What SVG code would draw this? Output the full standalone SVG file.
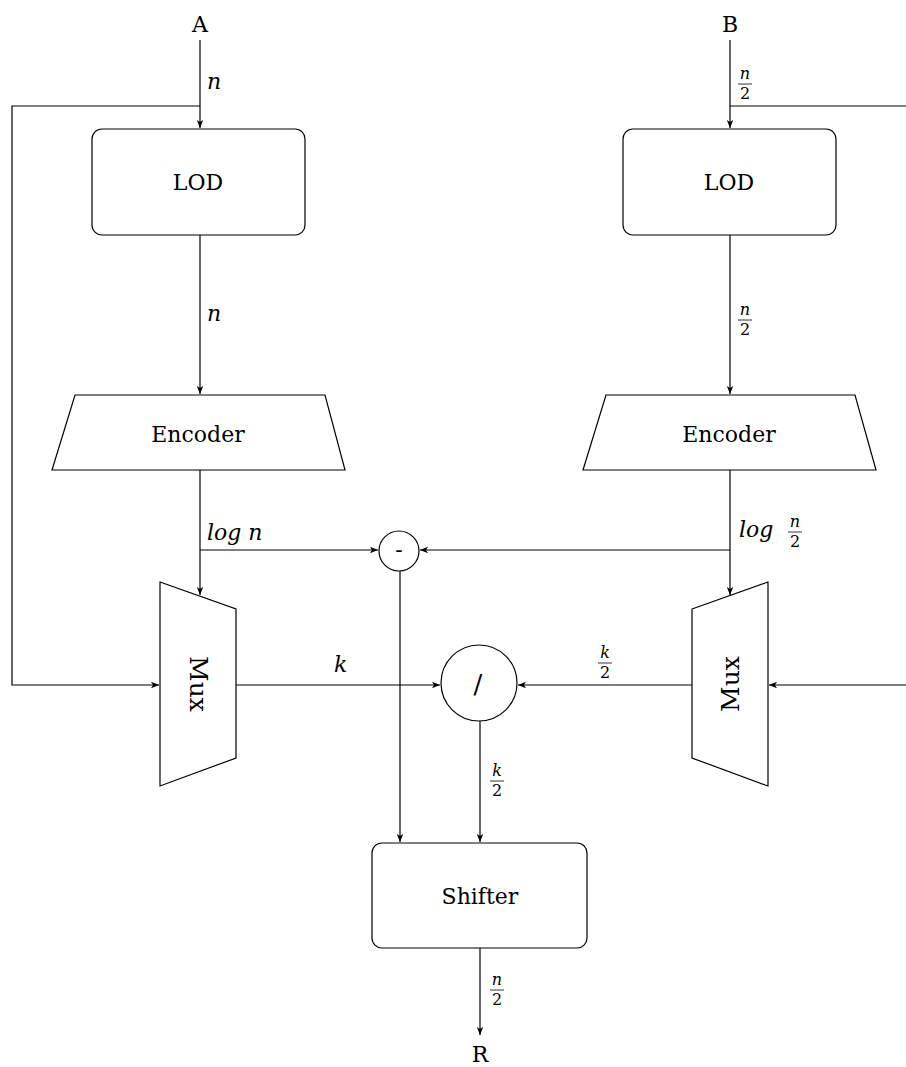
<svg xmlns="http://www.w3.org/2000/svg" width="906" height="1067" viewBox="0 0 906 1067">
<style>
text{font-family:"DejaVu Serif",serif;fill:#000}
.b{fill:#fff;stroke:#000;stroke-width:1.2}
.l{fill:none;stroke:#000;stroke-width:1.2}
.t{font-size:22px;text-anchor:middle}
.m{font-style:italic;font-size:22px}
.f{font-size:16px;text-anchor:middle}
.fi{font-size:16px;font-style:italic;text-anchor:middle}
.fl{stroke:#000;stroke-width:0.8}
</style>
<defs>
<marker id="ar" viewBox="0 0 10 10" refX="10" refY="5" markerWidth="8" markerHeight="8" markerUnits="userSpaceOnUse" orient="auto">
<path d="M0,1 L10,5 L0,9 L2.5,5 Z" fill="#000"/>
</marker>
</defs>
<g id="connectors">
<path class="l" d="M200,40 V128" marker-end="url(#ar)"/>
<path class="l" d="M200,106 H12 V685 H159" marker-end="url(#ar)"/>
<path class="l" d="M730,40 V128" marker-end="url(#ar)"/>
<path class="l" d="M730,106 H918 V685 H769" marker-end="url(#ar)"/>
<path class="l" d="M200,235 V394" marker-end="url(#ar)"/>
<path class="l" d="M730,235 V394" marker-end="url(#ar)"/>
<path class="l" d="M200,470 V595" marker-end="url(#ar)"/>
<path class="l" d="M730,470 V595" marker-end="url(#ar)"/>
<path class="l" d="M200,550 H378" marker-end="url(#ar)"/>
<path class="l" d="M730,550 H420" marker-end="url(#ar)"/>
<path class="l" d="M400,571 V842" marker-end="url(#ar)"/>
<path class="l" d="M236,685 H440" marker-end="url(#ar)"/>
<path class="l" d="M692,685 H518" marker-end="url(#ar)"/>
<path class="l" d="M480,721 V842" marker-end="url(#ar)"/>
<path class="l" d="M480,948 V1035" marker-end="url(#ar)"/>
</g>
<g id="labels">
<text class="t" x="200" y="32">A</text>
<text class="t" x="730" y="32">B</text>
<text class="t" x="480" y="1062">R</text>
<text class="m" x="207" y="89">n</text>
<g><text class="fi" x="745" y="79">n</text><line class="fl" x1="738" y1="84" x2="752" y2="84"/><text class="f" x="745" y="99">2</text></g>
<text class="m" x="207" y="321">n</text>
<g><text class="fi" x="745" y="315">n</text><line class="fl" x1="738" y1="320" x2="752" y2="320"/><text class="f" x="745" y="335">2</text></g>
<text class="m" x="207" y="540">log n</text>
<text class="m" x="739" y="537">log</text>
<g><text class="fi" x="795" y="527">n</text><line class="fl" x1="788" y1="532" x2="802" y2="532"/><text class="f" x="795" y="547">2</text></g>
<text class="m" x="334" y="672">k</text>
<g><text class="fi" x="605" y="658">k</text><line class="fl" x1="598" y1="663" x2="612" y2="663"/><text class="f" x="605" y="678">2</text></g>
<g><text class="fi" x="497" y="776">k</text><line class="fl" x1="490" y1="781" x2="504" y2="781"/><text class="f" x="497" y="796">2</text></g>
<g><text class="fi" x="497" y="985">n</text><line class="fl" x1="490" y1="990" x2="504" y2="990"/><text class="f" x="497" y="1005">2</text></g>
</g>
<g id="lod-a"><rect class="b" x="92" y="129" width="213" height="106" rx="10"/><text class="t" x="198" y="190">LOD</text></g>
<g id="lod-b"><rect class="b" x="623" y="129" width="213" height="106" rx="10"/><text class="t" x="729" y="190">LOD</text></g>
<g id="enc-a"><polygon class="b" points="75,395 325,395 345,470 52,470"/><text class="t" x="198" y="442">Encoder</text></g>
<g id="enc-b"><polygon class="b" points="606,395 855,395 876,470 583,470"/><text class="t" x="729" y="442">Encoder</text></g>
<g id="mux-a"><polygon class="b" points="160,582 236,609 236,758 160,786"/><text class="t" x="0" y="0" transform="translate(190,684) rotate(90)" style="font-size:25px">Mux</text></g>
<g id="mux-b"><polygon class="b" points="692,609 768,582 768,786 692,758"/><text class="t" x="0" y="0" transform="translate(739,684) rotate(-90)" style="font-size:25px">Mux</text></g>
<g id="sub"><circle class="b" cx="399" cy="551" r="20"/><text class="t" x="399" y="557">-</text></g>
<g id="div"><circle class="b" cx="479" cy="683" r="38"/><text class="t" x="478" y="693" style="font-size:26px">/</text></g>
<g id="shifter"><rect class="b" x="372" y="843" width="215" height="105" rx="10"/><text class="t" x="480" y="904">Shifter</text></g>
</svg>
